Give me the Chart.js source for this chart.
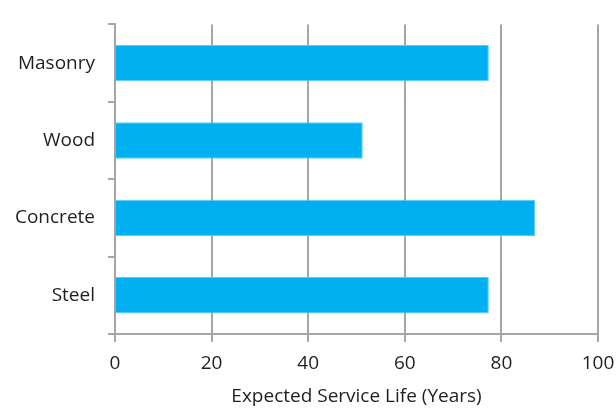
<!DOCTYPE html>
<html>
<head>
<meta charset="utf-8">
<script src="https://cdn.jsdelivr.net/npm/chart.js@4"></script>
<style>
  html, body { margin: 0; padding: 0; background: #fff; }
  #wrap { width: 616px; height: 409px; }
</style>
</head>
<body>
<div id="wrap"><canvas id="chart" width="616" height="409"></canvas></div>
<script>
const categories = ["Masonry", "Wood", "Concrete", "Steel"];
const serviceLife = [77.4, 51.3, 87, 77.4];
const xTicks = [0, 20, 40, 60, 80, 100];

const gridColor = "#a6a6a6";
const textColor = "#1f1f1f";
const fontFamily = "'Open Sans', 'Noto Sans', sans-serif";

new Chart(document.getElementById("chart"), {
  type: "bar",
  data: {
    labels: categories,
    datasets: [{
      data: serviceLife,
      backgroundColor: "#00b0f0",
      borderColor: "#5cccf5",
      borderWidth: 1,
      barPercentage: 0.47,
      categoryPercentage: 1,
    }],
  },
  options: {
    indexAxis: "y",
    responsive: false,
    animation: false,
    layout: { padding: { top: 13, right: 18, bottom: 0, left: 0 } },
    plugins: {
      legend: { display: false },
      tooltip: { enabled: false },
    },
    scales: {
      x: {
        min: 0,
        max: 100,
        afterBuildTicks: (scale) => {
          scale.ticks = xTicks.map((v) => ({ value: v }));
        },
        afterFit: (scale) => {
          scale.height = 75;
          scale.paddingLeft = 0;
          scale.paddingRight = 0;
        },
        grid: {
          color: gridColor,
          lineWidth: 2,
          tickLength: 8,
        },
        border: { display: true, color: gridColor, width: 2 },
        ticks: {
          color: textColor,
          padding: 10,
          font: { family: fontFamily, size: 19 },
        },
        title: {
          display: true,
          text: "Expected Service Life (Years)",
          color: textColor,
          padding: { top: 4, bottom: 1 },
          font: { family: fontFamily, size: 19 },
        },
      },
      y: {
        afterFit: (scale) => { scale.width = 115; },
        grid: {
          color: gridColor,
          lineWidth: 2,
          drawOnChartArea: false,
          tickLength: 7,
        },
        border: { display: true, color: gridColor, width: 2 },
        ticks: {
          color: textColor,
          padding: 13,
          font: { family: fontFamily, size: 19 },
        },
      },
    },
  },
});
</script>
</body>
</html>
